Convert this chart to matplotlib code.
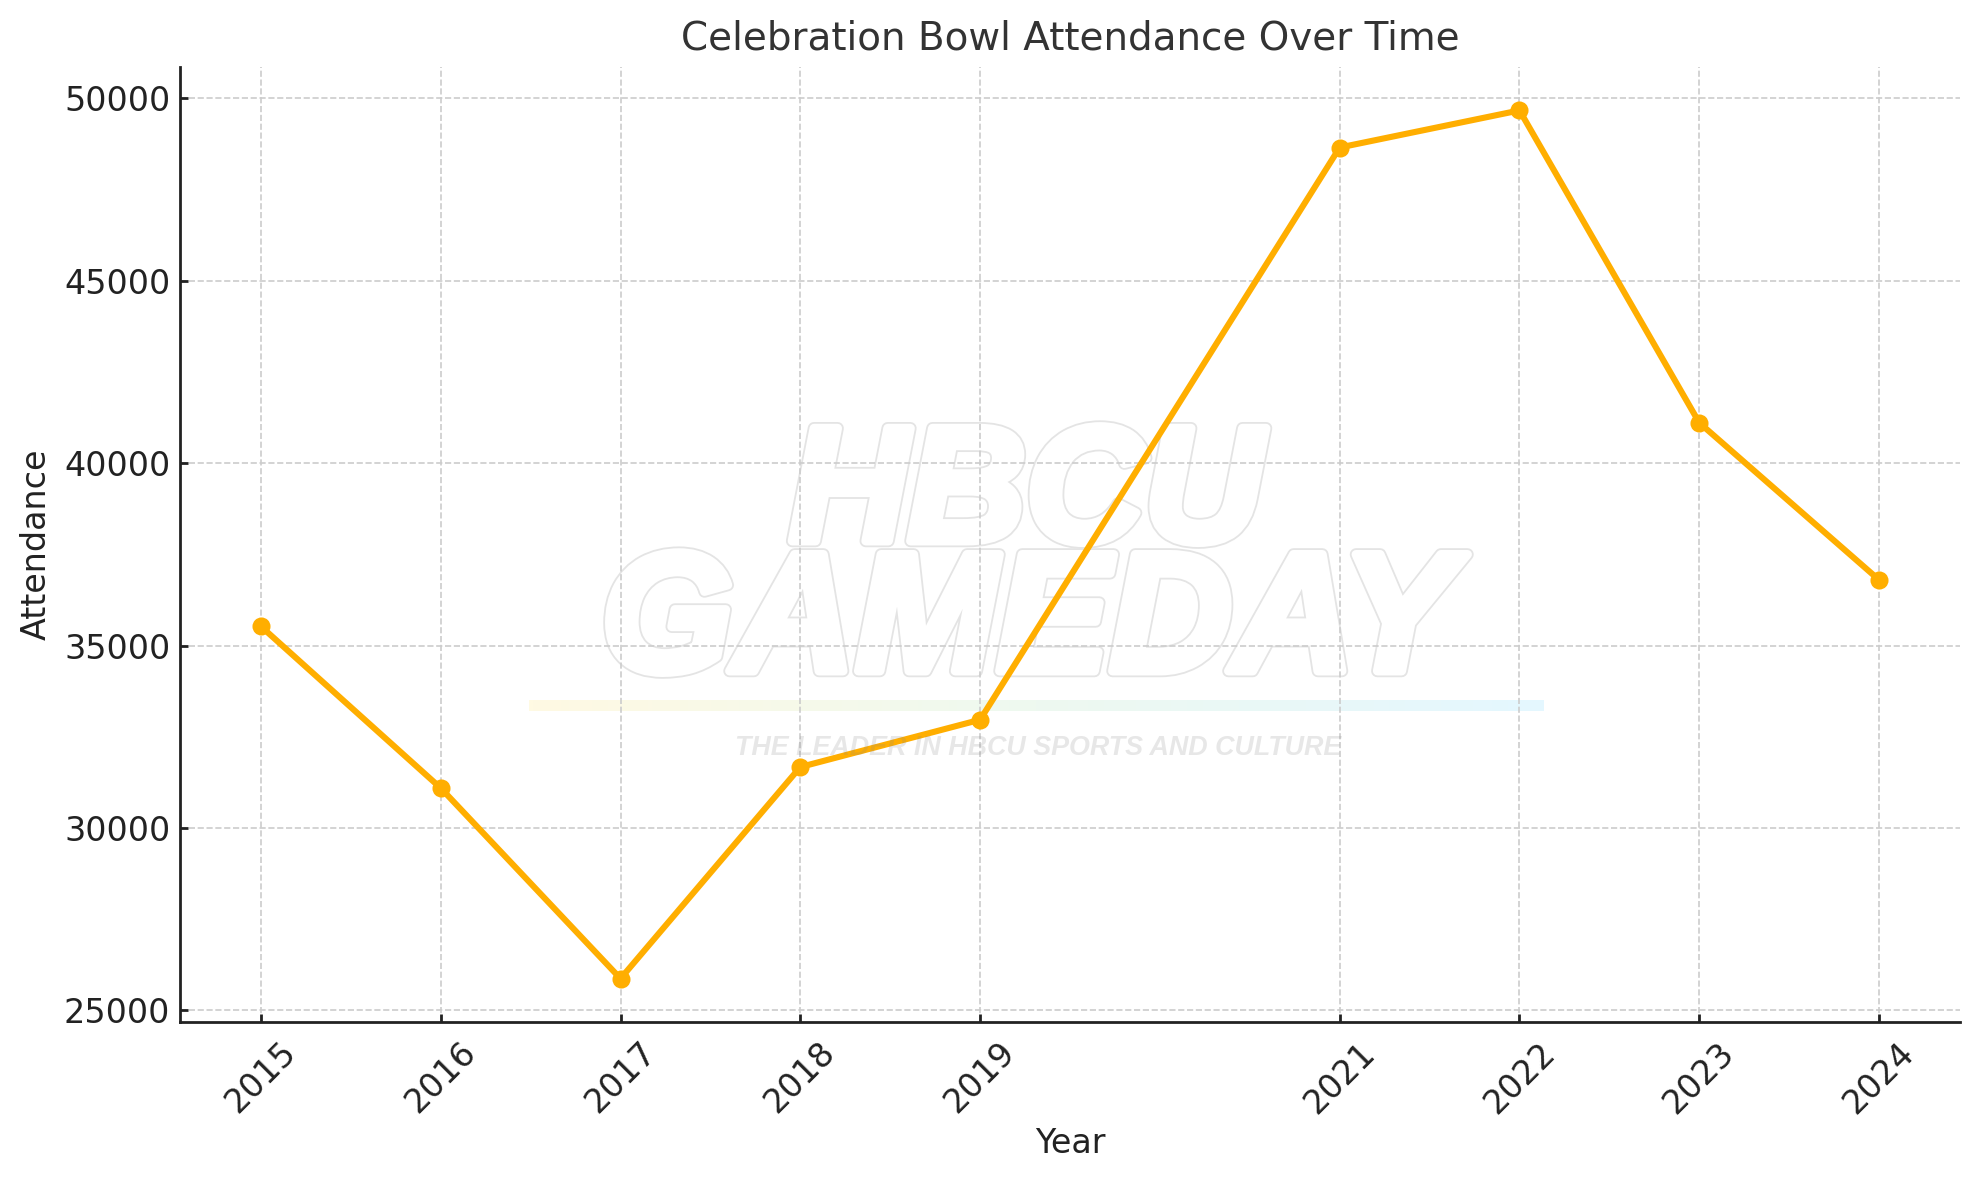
import numpy as np
import matplotlib
matplotlib.use('Agg')
import matplotlib.pyplot as plt
import matplotlib.patheffects as pe
from matplotlib.colors import LinearSegmentedColormap

years = [2015, 2016, 2017, 2018, 2019, 2021, 2022, 2023, 2024]
attendance = [35528, 31096, 25873, 31672, 32968, 48653, 49670, 41108, 36800]
yticks = [25000, 30000, 35000, 40000, 45000, 50000]

W, H = 1979, 1180
LINE = '#FFAE00'

fig = plt.figure(figsize=(W / 200, H / 200), dpi=200)
ax = fig.add_axes([180 / W, 1 - 1022 / H, (1960 - 180) / W, (1022 - 67) / H])
ax.patch.set_alpha(0)

ax.plot(years, attendance, color=LINE, marker='o', lw=2.2, ms=5.5, zorder=3)

ax.set_xticks(years)
ax.set_xticklabels([str(y) for y in years], rotation=45)
ax.set_yticks(yticks)
ax.tick_params(direction='in', length=3, width=1, labelsize=12, colors='#222222')
ax.tick_params(axis='x', pad=5)
ax.tick_params(axis='y', pad=3.5)
ax.set_title('Celebration Bowl Attendance Over Time', fontsize=14, color='#333333', pad=6.3)
ax.set_xlabel('Year', fontsize=12, color='#222222', labelpad=2.5)
ax.set_ylabel('Attendance', fontsize=12, color='#222222')
ax.grid(True, ls='--', lw=0.6, color='#cccccc')
ax.set_axisbelow(True)
ax.spines['top'].set_visible(False)
ax.spines['right'].set_visible(False)
for s in ['left', 'bottom']:
    ax.spines[s].set_color('#222222')
    ax.spines[s].set_linewidth(1)


# watermark, placed in figure pixels and kept under the axes
def wm(x, y, s, size):
    t = fig.text(x / W, 1 - y / H, s, fontsize=size, family='Liberation Sans', weight='bold',
                 style='italic', ha='center', va='baseline', color='white', zorder=-1)
    t.set_path_effects([pe.Stroke(linewidth=4.5, foreground='#e4e4e4'),
                        pe.Stroke(linewidth=3.2, foreground='white'),
                        pe.Normal()])
    return t


wm(1026, 541, 'HBCU', 59)
wm(1028, 671, 'GAMEDAY', 61)
fig.text(1038 / W, 1 - 755 / H, 'THE LEADER IN HBCU SPORTS AND CULTURE', fontsize=9.7,
         family='Liberation Sans', weight='bold', style='italic', ha='center',
         va='baseline', color='#888888', alpha=0.2, zorder=5)

bar_cmap = LinearSegmentedColormap.from_list('wm', ['#FFFAE3', '#EEF9F0', '#E4F7FF'])
bar_ax = fig.add_axes([529 / W, 1 - 711 / H, (1544 - 529) / W, 11 / H], zorder=-1)
bar_ax.imshow(np.linspace(0, 1, 256).reshape(1, -1), cmap=bar_cmap, aspect='auto')
bar_ax.axis('off')

fig.savefig('out.png', dpi=200)
